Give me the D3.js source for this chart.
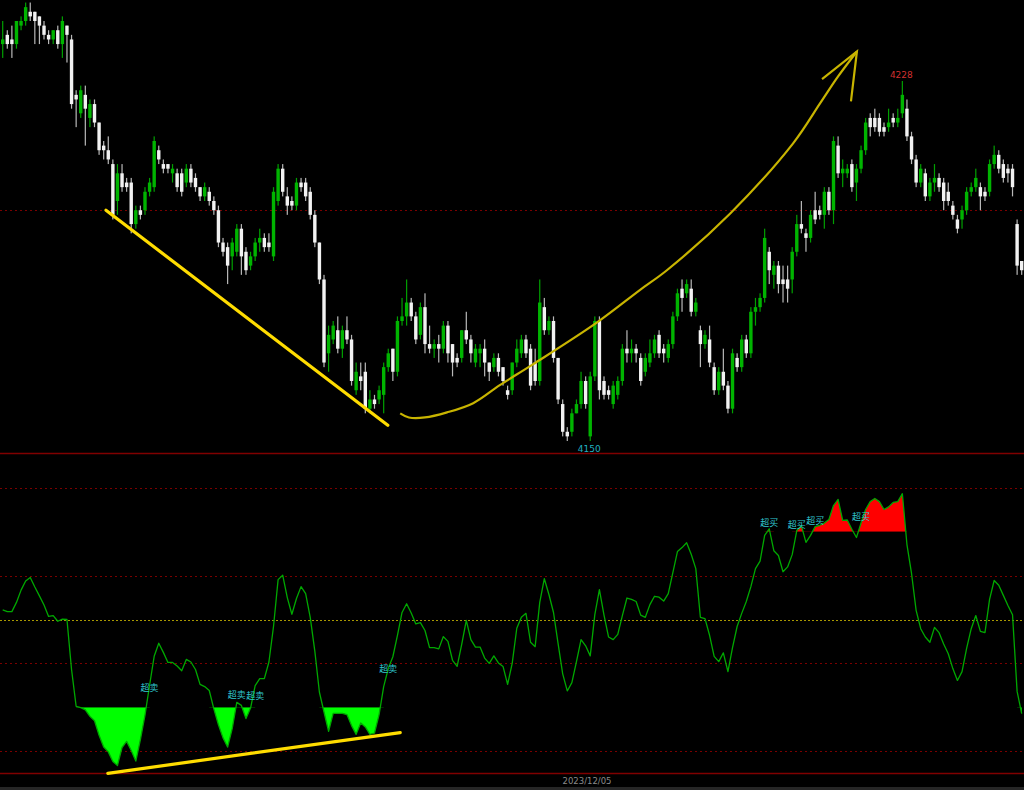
<!DOCTYPE html>
<html><head><meta charset="utf-8">
<script src="https://cdn.jsdelivr.net/npm/d3@7"></script>
<style>html,body{margin:0;padding:0;background:#000;overflow:hidden}</style>
</head><body><svg id="c" width="1024" height="790"></svg>
<script>
// [open, high, low, close]
const ohlc = [
/*0*/[4236,4241,4233,4237],[4238,4239,4235,4236],[4237,4240,4233,4236],[4236,4241,4235,4241],[4240,4242,4239,4241],
[4241,4245,4240,4244],[4243,4245,4241,4242],[4243,4243,4236,4241],[4242,4242,4236,4240],[4240,4241,4237,4238],
/*10*/[4238,4239,4236,4237],[4237,4239,4236,4239],[4239,4240,4235,4236],[4236,4242,4233,4241],[4240,4240,4232,4238],
[4237,4238,4222,4223],[4225,4226,4218,4224],[4221,4227,4220,4226],[4225,4227,4214,4222],[4220,4224,4218,4223],
/*20*/[4223,4224,4218,4219],[4219,4219,4212,4213],[4214,4215,4211,4213],[4213,4216,4210,4211],[4210,4211,4198,4199],
[4202,4210,4199,4208],[4208,4210,4204,4205],[4206,4207,4204,4205],[4206,4207,4195,4197],[4197,4201,4196,4200],
/*30*/[4200,4201,4198,4199],[4200,4205,4199,4204],[4204,4207,4203,4206],[4205,4216,4204,4215],[4213,4214,4210,4211],
[4210,4211,4208,4209],[4210,4210,4208,4209],[4208,4210,4206,4209],[4208,4209,4204,4205],[4208,4209,4203,4204],
/*40*/[4206,4210,4205,4209],[4209,4210,4205,4206],[4207,4208,4204,4205],[4205,4205,4202,4203],[4203,4206,4202,4205],
[4204,4205,4201,4202],[4202,4203,4199,4200],[4200,4201,4192,4193],[4193,4194,4190,4191],[4192,4193,4184,4188],
/*50*/[4190,4194,4187,4193],[4191,4197,4190,4196],[4196,4197,4186,4190],[4191,4192,4186,4187],[4188,4191,4187,4190],
[4190,4194,4189,4193],[4193,4196,4191,4194],[4194,4195,4191,4192],[4193,4195,4191,4192],[4190,4205,4189,4204],
/*60*/[4202,4210,4201,4209],[4209,4210,4203,4204],[4203,4205,4199,4201],[4202,4203,4200,4201],[4201,4207,4200,4206],
[4206,4207,4204,4205],[4206,4207,4202,4203],[4204,4205,4198,4199],[4199,4200,4192,4193],[4193,4193,4184,4185],
/*70*/[4185,4186,4166,4167],[4169,4175,4165,4173],[4172,4176,4171,4175],[4174,4177,4169,4170],[4170,4175,4168,4174],
[4174,4177,4171,4172],[4172,4173,4162,4163],[4161,4167,4160,4165],[4164,4167,4161,4163],[4165,4167,4156,4157],
/*80*/[4157,4161,4156,4159],[4159,4160,4157,4158],[4159,4162,4158,4161],[4160,4167,4156,4166],[4166,4170,4165,4169],
[4170,4170,4163,4165],[4165,4177,4164,4176],[4176,4181,4175,4177],[4177,4185,4175,4180],[4180,4181,4176,4177],
/*90*/[4177,4178,4171,4172],[4173,4180,4172,4179],[4179,4182,4169,4171],[4171,4175,4169,4170],[4170,4172,4168,4171],
[4171,4173,4167,4170],[4170,4176,4169,4175],[4175,4176,4167,4169],[4171,4171,4164,4167],[4168,4169,4166,4167],
/*100*/[4168,4174,4167,4174],[4174,4178,4171,4172],[4172,4173,4167,4169],[4167,4171,4166,4170],[4169,4171,4166,4170],
[4170,4172,4164,4167],[4167,4167,4163,4165],[4166,4169,4165,4168],[4168,4169,4164,4165],[4166,4166,4162,4163],
/*110*/[4161,4162,4159,4160],[4161,4167,4160,4167],[4167,4172,4166,4170],[4169,4173,4168,4172],[4172,4173,4168,4169],
[4170,4171,4161,4162],[4167,4170,4162,4163],[4163,4185,4162,4180],[4179,4181,4173,4174],[4174,4177,4173,4176],
/*120*/[4176,4177,4167,4168],[4168,4168,4158,4159],[4158,4159,4151,4152],[4152,4153,4150,4151],[4152,4157,4151,4156],
[4156,4159,4156,4158],[4158,4165,4157,4163],[4163,4164,4157,4158],[4151,4165,4150,4164],[4164,4177,4163,4176],
/*130*/[4176,4177,4159,4161],[4163,4164,4159,4160],[4161,4162,4159,4160],[4158,4163,4157,4162],[4160,4164,4159,4163],
[4163,4171,4162,4170],[4170,4174,4167,4169],[4169,4172,4167,4170],[4170,4171,4167,4169],[4168,4169,4162,4163],
/*140*/[4165,4169,4164,4168],[4167,4172,4166,4169],[4169,4173,4168,4172],[4173,4174,4168,4169],[4170,4171,4167,4169],
[4168,4172,4167,4171],[4171,4178,4170,4177],[4177,4183,4176,4182],[4183,4185,4178,4181],[4182,4185,4181,4184],
/*150*/[4183,4185,4177,4178],[4178,4181,4177,4180],[4174,4175,4166,4171],[4171,4174,4170,4173],[4172,4175,4166,4167],
[4166,4167,4160,4161],[4161,4166,4160,4165],[4165,4170,4161,4162],[4162,4163,4156,4157],[4157,4170,4156,4169],
/*160*/[4168,4169,4165,4166],[4166,4173,4165,4172],[4172,4173,4168,4169],[4169,4179,4168,4178],[4178,4181,4175,4179],
[4179,4182,4178,4181],[4181,4196,4180,4194],[4191,4192,4184,4187],[4186,4189,4183,4188],[4188,4189,4182,4184],
/*170*/[4185,4188,4180,4184],[4185,4188,4180,4183],[4185,4192,4182,4191],[4191,4199,4190,4197],[4197,4202,4195,4196],
[4195,4196,4191,4194],[4194,4200,4193,4199],[4200,4204,4197,4198],[4200,4201,4198,4199],[4199,4205,4196,4204],
/*180*/[4204,4205,4199,4200],[4200,4216,4197,4215],[4214,4216,4207,4208],[4208,4211,4205,4209],[4208,4210,4207,4209],
[4210,4211,4204,4205],[4206,4210,4202,4209],[4209,4214,4208,4213],[4213,4220,4212,4219],[4220,4221,4216,4218],
/*190*/[4220,4222,4217,4218],[4220,4221,4216,4217],[4218,4219,4216,4217],[4218,4222,4217,4219],[4220,4221,4218,4219],
[4219,4222,4218,4220],[4221,4228,4220,4225],[4222,4224,4215,4216],[4216,4217,4210,4211],[4211,4212,4205,4206],
/*200*/[4206,4210,4205,4209],[4208,4209,4202,4203],[4203,4207,4202,4206],[4206,4210,4204,4207],[4207,4208,4204,4205],
[4206,4207,4200,4202],[4204,4206,4201,4202],[4201,4202,4198,4199],[4198,4199,4195,4196],[4198,4201,4196,4200],
/*210*/[4200,4205,4199,4204],[4204,4206,4203,4205],[4205,4209,4204,4207],[4205,4206,4200,4203],[4204,4205,4202,4203],
[4204,4211,4203,4210],[4210,4214,4209,4212],[4212,4213,4208,4209],[4210,4211,4206,4207],[4209,4210,4206,4208],
/*220*/[4209,4210,4203,4205],[4197,4198,4186,4188],[4189,4189,4186,4187]
];

const rsi = [
52.2,51.8,51.8,53.9,56.7,58.8,59.6,57.4,55.4,53.3,
50.7,50.9,49.6,50.1,50.0,38.6,30.2,29.9,29.4,27.9,
26.9,23.6,20.9,19.8,17.6,16.7,20.8,22.2,20.1,17.7,
22.6,28.2,35.0,41.6,44.6,42.5,40.2,40.2,39.4,38.3,
40.9,40.3,38.6,35.2,34.7,33.8,29.6,26.0,23.0,20.9,
25.1,31.1,30.4,27.4,29.8,34.9,36.5,36.5,40.3,48.4,
59.1,60.1,55.0,51.2,54.8,57.5,55.9,50.5,42.8,33.4,
28.9,24.5,28.6,28.6,28.6,28.3,25.8,23.8,26.4,25.5,
23.8,24.1,28.3,34.7,38.8,41.5,46.4,51.6,53.6,51.5,
49.0,49.3,47.5,43.6,43.6,43.3,46.1,45.0,40.7,39.3,
44.3,49.8,45.4,43.7,43.7,41.2,40.0,41.7,40.1,39.3,
35.2,40.0,48.0,50.5,51.4,44.8,43.8,53.9,59.3,55.7,
51.6,44.5,37.6,33.7,35.6,40.4,45.4,44.0,41.7,51.1,
56.8,51.0,46.0,45.4,46.6,50.9,54.9,54.6,54.1,51.0,
50.5,53.4,55.3,55.1,54.2,55.9,60.7,65.5,66.4,67.5,
64.9,61.6,50.5,50.2,46.4,41.6,40.4,42.4,38.1,43.6,
48.4,51.4,54.1,57.5,61.6,63.3,69.2,70.7,65.7,64.6,
60.9,62.0,64.8,70.3,71.4,67.6,69.2,71.2,71.5,72.0,
72.8,76.0,77.4,72.6,72.7,70.6,68.7,72.0,75.1,76.9,
77.6,76.9,75.1,75.7,76.7,76.9,78.7,67.1,60.5,52.1,
47.9,46.0,44.8,48.2,47.0,44.4,42.2,38.8,36.1,38.1,
43.4,47.9,50.9,47.3,47.0,54.6,58.9,57.8,55.5,53.2,
51.1,33.6,28.5
];

const oversoldLabels = [{i:32,v:34.5},{i:51,v:32.9},{i:55,v:32.7},{i:84,v:38.8}];
const overboughtLabels = [{i:167,v:72.1},{i:173,v:71.7},{i:177,v:72.6},{i:187,v:73.5}];
const priceGrid = [4200];
const rsiGrid = [20,40,60,80];
const rsiMid = 50, rsiOB = 70, rsiOS = 30, rsiFloor = 15;
const highLabel = {i:196, text:"4228"};
const lowLabel = {i:128, text:"4150"};
const dateLabels = [{i:127.3, text:"2023/12/05"}];
const priceTrend = [[22.5,4200],[83.9,4153.4]];
const rsiTrend = [[22.9,14.9],[86.6,24.2]];
const arcPoints = [[86.6,4156.0],[88.5,4155.1],[92.0,4155.1],[96.8,4156.2],[102.5,4158.2],[108.3,4162.1],
  [115.5,4166.6],[129.5,4175.7],[138.8,4182.7],[144.7,4187.0],[158.5,4199.3],[172.2,4214.5],
  [178.1,4223.2],[182.0,4229.0],[186.1,4234.4]];
const arrowHead = [[178.5,4228.4],[186.1,4234.4],[184.8,4223.6]];

const W=1024,H=790;
const svg=d3.select('#c');
const x=d3.scaleLinear().domain([0,222]).range([2.7,1021.7]);
const yP=d3.scaleLinear().domain([4150,4228]).range([441,81]);
const yR=d3.scaleLinear().domain([20,80]).range([751,488]);

svg.append('rect').attr('width',W).attr('height',H).attr('fill','#000');

// grid lines
const grid=svg.append('g');
priceGrid.forEach(p=>grid.append('line').attr('x1',0).attr('x2',W)
  .attr('y1',Math.round(yP(p))+0.5).attr('y2',Math.round(yP(p))+0.5)
  .attr('stroke','#7a0000').attr('stroke-dasharray','2,3'));
rsiGrid.forEach(v=>grid.append('line').attr('x1',0).attr('x2',W)
  .attr('y1',Math.round(yR(v))+0.5).attr('y2',Math.round(yR(v))+0.5)
  .attr('stroke','#7a0000').attr('stroke-dasharray','2,3'));
grid.append('line').attr('x1',0).attr('x2',W)
  .attr('y1',Math.round(yR(rsiMid))+0.5).attr('y2',Math.round(yR(rsiMid))+0.5)
  .attr('stroke','#a89800').attr('stroke-dasharray','2,2');
grid.append('line').attr('x1',0).attr('x2',W).attr('y1',453.5).attr('y2',453.5)
  .attr('stroke','#800000').attr('stroke-width',1.5);
grid.append('line').attr('x1',0).attr('x2',W)
  .attr('y1',Math.round(yR(rsiFloor))+0.5).attr('y2',Math.round(yR(rsiFloor))+0.5)
  .attr('stroke','#800000').attr('stroke-width',1.5);
svg.append('rect').attr('x',0).attr('y',787).attr('width',W).attr('height',3).attr('fill','#262626');

// candles
const cg=svg.append('g');
ohlc.forEach((d,i)=>{
  const [o,h,l,c]=d, up=c>o;
  const cx=x(i);
  cg.append('rect').attr('x',cx-0.6).attr('width',1.2)
    .attr('y',yP(h)).attr('height',Math.max(1,yP(l)-yP(h)))
    .attr('fill',up?'#00a000':'#b8b8b8');
  const top=yP(Math.max(o,c)), bot=yP(Math.min(o,c));
  cg.append('rect').attr('x',cx-1.7).attr('width',3.4)
    .attr('y',top).attr('height',Math.max(1.6,bot-top))
    .attr('fill',up?'#00b400':'#f2f2f2');
});

// price annotations
svg.append('text').attr('x',x(highLabel.i)-1).attr('y',yP(ohlc[highLabel.i][1])-3)
  .attr('text-anchor','middle').attr('font-family','DejaVu Sans').attr('font-size',9)
  .attr('fill','#d03030').text(highLabel.text);
svg.append('text').attr('x',x(lowLabel.i)-1).attr('y',yP(ohlc[lowLabel.i][2])+11)
  .attr('text-anchor','middle').attr('font-family','DejaVu Sans').attr('font-size',9)
  .attr('fill','#20b0c0').text(lowLabel.text);

// trend line (price)
svg.append('line').attr('x1',x(priceTrend[0][0])).attr('y1',yP(priceTrend[0][1]))
  .attr('x2',x(priceTrend[1][0])).attr('y2',yP(priceTrend[1][1]))
  .attr('stroke','#ffdc00').attr('stroke-width',3.2).attr('stroke-linecap','round');
// curved arrow
const arcLine=d3.line().x(d=>x(d[0])).y(d=>yP(d[1])).curve(d3.curveCatmullRom);
svg.append('path').attr('d',arcLine(arcPoints)).attr('fill','none')
  .attr('stroke','#c8b400').attr('stroke-width',2.2);
svg.append('path').attr('d',d3.line().x(d=>x(d[0])).y(d=>yP(d[1]))(arrowHead)).attr('fill','none')
  .attr('stroke','#c8b400').attr('stroke-width',2.2).attr('stroke-linejoin','miter');

// RSI fills (only where beyond the threshold)
const defs=svg.append('defs');
defs.append('clipPath').attr('id','cOS').append('rect').attr('x',0).attr('y',yR(rsiOS)).attr('width',W).attr('height',H);
defs.append('clipPath').attr('id','cOB').append('rect').attr('x',0).attr('y',0).attr('width',W).attr('height',yR(rsiOB));
const segs=(test)=>{ // split into runs touching the zone so no zero-height strips are drawn
  const runs=[]; let cur=null;
  rsi.forEach((v,i)=>{
    const inside=test(v)||(i>0&&test(rsi[i-1]))||(i<rsi.length-1&&test(rsi[i+1]));
    if(inside){ if(!cur){cur=[];runs.push(cur);} cur.push(i);} else cur=null;
  });
  return runs;
};
segs(v=>v<rsiOS).forEach(run=>svg.append('path').datum(run).attr('clip-path','url(#cOS)').attr('fill','#00ff00')
  .attr('d',d3.area().x(i=>x(i)).y0(yR(rsiOS)).y1(i=>yR(rsi[i]))));
segs(v=>v>rsiOB).forEach(run=>svg.append('path').datum(run).attr('clip-path','url(#cOB)').attr('fill','#ff0000')
  .attr('d',d3.area().x(i=>x(i)).y0(yR(rsiOB)).y1(i=>yR(rsi[i]))));
svg.append('path').datum(rsi).attr('fill','none').attr('stroke','#00a800').attr('stroke-width',1.3)
  .attr('stroke-linejoin','round')
  .attr('d',d3.line().x((d,i)=>x(i)).y(d=>yR(d)));

// RSI trend line
svg.append('line').attr('x1',x(rsiTrend[0][0])).attr('y1',yR(rsiTrend[0][1]))
  .attr('x2',x(rsiTrend[1][0])).attr('y2',yR(rsiTrend[1][1]))
  .attr('stroke','#ffdc00').attr('stroke-width',3.2).attr('stroke-linecap','round');

// signal labels
const lab=(arr,t)=>arr.forEach(d=>svg.append('text').attr('x',x(d.i)).attr('y',yR(d.v))
  .attr('text-anchor','middle').attr('dominant-baseline','central')
  .attr('font-family','Noto Sans CJK SC').attr('font-size',9).attr('fill','#30c8d0').text(t));
lab(oversoldLabels,'超卖');
lab(overboughtLabels,'超买');

// date label
dateLabels.forEach(d=>svg.append('text').attr('x',x(d.i)).attr('y',784)
  .attr('text-anchor','middle').attr('font-family','DejaVu Sans').attr('font-size',8.5)
  .attr('fill','#8a8a8a').text(d.text));
</script></body></html>
